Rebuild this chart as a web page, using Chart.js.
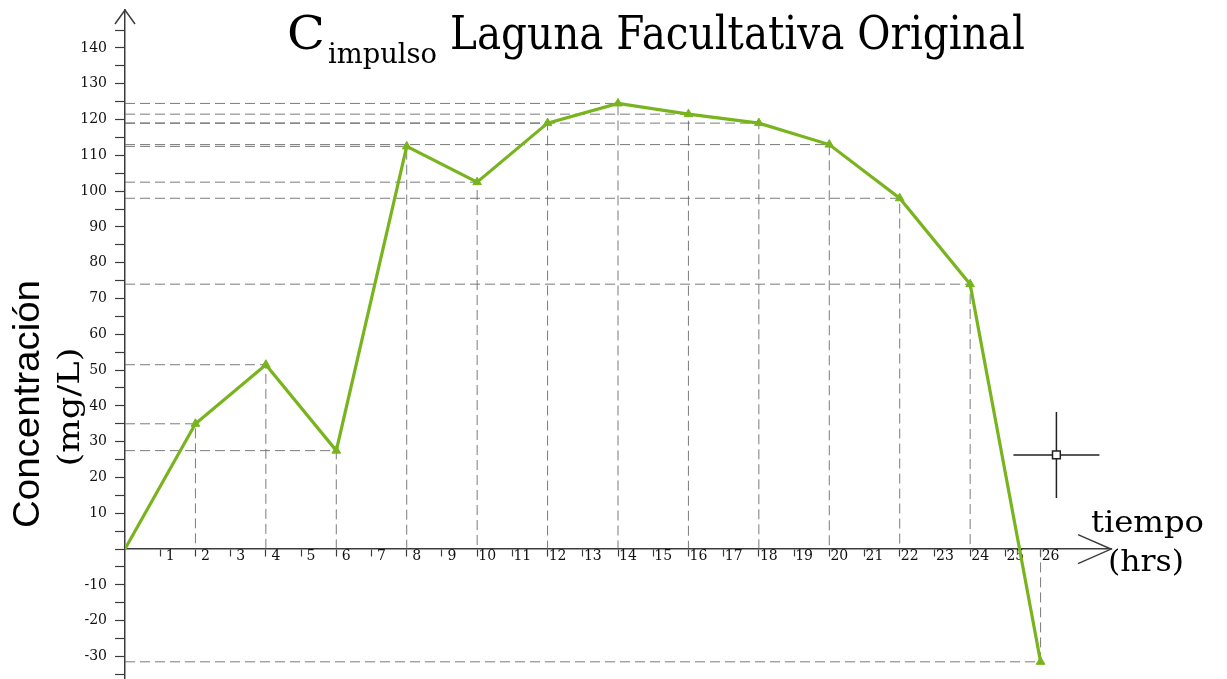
<!DOCTYPE html>
<html>
<head>
<meta charset="utf-8">
<title>Cimpulso Laguna Facultativa Original</title>
<script src="https://cdn.jsdelivr.net/npm/chart.js@4/dist/chart.umd.min.js"></script>
<style>
  html, body { margin: 0; padding: 0; background: #ffffff; }
  #grafica { display: block; }
</style>
</head>
<body>
<canvas id="grafica" width="1227" height="679"></canvas>
<script>
// Concentración del trazador (mg/L) frente al tiempo (hrs)
const horas = [0, 2, 4, 6, 8, 10, 12, 14, 16, 18, 20, 22, 24, 26];
const concentracion = [0, 35, 51.5, 27.5, 112.5, 102.5, 119, 124.5, 121.5, 119, 113, 98, 74, -31.5];

// Marcas de los ejes
const xTicks = [1, 2, 3, 4, 5, 6, 7, 8, 9, 10, 11, 12, 13, 14, 15, 16, 17, 18, 19, 20, 21, 22, 23, 24, 25, 26];
const yTicks = [-35, -30, -25, -20, -15, -10, -5, 0, 5, 10, 15, 20, 25, 30, 35, 40, 45, 50, 55, 60, 65, 70,
                75, 80, 85, 90, 95, 100, 105, 110, 115, 120, 125, 130, 135, 140, 145];

// Puntero del ratón que aparece sobre la gráfica
const puntero = [{ x: 26.45, y: 26.3 }];

const VERDE = '#78b41e';
const EJE = '#3c3c3c';
const GUIA = 'rgba(100,100,100,0.85)';

// Líneas de referencia discontinuas: desde el eje Y hasta el punto y del punto al eje X
const guias = horas
  .map((h, i) => ({ h, c: concentracion[i] }))
  .filter(p => p.h !== 0)
  .map(p => ({
    data: [{ x: 0, y: p.c }, { x: p.h, y: p.c }, { x: p.h, y: 0 }],
    borderColor: GUIA,
    borderWidth: 1,
    borderDash: [10, 5],
    pointRadius: 0,
    fill: false,
    tension: 0
  }));

function textoAjustado(ctx, texto, fuente, x, base, ancho) {
  ctx.save();
  ctx.font = fuente;
  ctx.textAlign = 'left';
  ctx.textBaseline = 'alphabetic';
  const w = ctx.measureText(texto).width;
  ctx.translate(x, base);
  ctx.scale(ancho / w, 1);
  ctx.fillText(texto, 0, 0);
  ctx.restore();
}

function textoVertical(ctx, texto, fuente, xBase, yCentro, largo) {
  ctx.save();
  ctx.font = fuente;
  ctx.textAlign = 'center';
  ctx.textBaseline = 'alphabetic';
  const w = ctx.measureText(texto).width;
  ctx.translate(xBase, yCentro);
  ctx.rotate(-Math.PI / 2);
  ctx.scale(largo / w, 1);
  ctx.fillText(texto, 0, 0);
  ctx.restore();
}

// Flechas de los ejes, título y nombres de los ejes
const rotulos = {
  id: 'rotulos',
  afterDraw(chart) {
    const ctx = chart.ctx;
    const sx = chart.scales.x, sy = chart.scales.y;
    const x0 = sx.getPixelForValue(0);
    const y0 = sy.getPixelForValue(0);
    const xFin = sx.getPixelForValue(sx.max);
    const yFin = sy.getPixelForValue(sy.max);

    ctx.save();
    ctx.strokeStyle = EJE;
    ctx.lineWidth = 1.5;
    ctx.beginPath();
    ctx.moveTo(x0 - 10, yFin + 14);
    ctx.lineTo(x0, yFin);
    ctx.lineTo(x0 + 10, yFin + 14);
    ctx.moveTo(xFin - 33, y0 - 14.5);
    ctx.lineTo(xFin, y0);
    ctx.lineTo(xFin - 33, y0 + 14.5);
    ctx.stroke();
    ctx.restore();

    ctx.save();
    ctx.fillStyle = '#000000';
    textoAjustado(ctx, 'C', '47px "DejaVu Serif"', 287, 49, 38);
    textoAjustado(ctx, 'impulso', '28px "DejaVu Serif"', 328, 63, 109);
    textoAjustado(ctx, 'Laguna Facultativa Original', '47px "DejaVu Serif"', 450, 49, 575);

    textoVertical(ctx, 'Concentración', '36px "Liberation Sans"', 39, 404, 248);
    textoVertical(ctx, '(mg/L)', '30px "DejaVu Serif"', 79, 407, 119);

    textoAjustado(ctx, 'tiempo', '30px "DejaVu Serif"', 1091, 532, 113);
    textoAjustado(ctx, '(hrs)', '30px "DejaVu Serif"', 1108, 571, 76);
    ctx.restore();
  }
};

new Chart(document.getElementById('grafica'), {
  type: 'line',
  data: {
    datasets: [
      {
        data: puntero,
        pointStyle: 'rect',
        pointRadius: 5.5,
        pointBorderWidth: 1.5,
        pointBorderColor: '#222222',
        pointBackgroundColor: '#ffffff',
        showLine: false
      },
      {
        data: puntero,
        pointStyle: 'cross',
        pointRadius: 43,
        pointBorderWidth: 1.5,
        pointBorderColor: '#222222',
        showLine: false
      },
      {
        data: horas.map((h, i) => ({ x: h, y: concentracion[i] })),
        borderColor: VERDE,
        borderWidth: 3.2,
        pointStyle: 'triangle',
        pointRadius: horas.map(h => (h === 0 ? 0 : 5)),
        pointBackgroundColor: VERDE,
        pointBorderColor: VERDE,
        pointBorderWidth: 1,
        tension: 0,
        fill: false
      },
      ...guias
    ]
  },
  options: {
    responsive: false,
    animation: false,
    events: [],
    devicePixelRatio: 1,
    layout: { autoPadding: false, padding: { left: 0, right: 116, top: 10, bottom: 0 } },
    plugins: {
      legend: { display: false },
      tooltip: { enabled: false },
      title: { display: false }
    },
    scales: {
      x: {
        type: 'linear',
        min: 0,
        max: 28,
        position: { y: 0 },
        afterFit: axis => { axis.height = 0; axis.paddingLeft = 0; axis.paddingRight = 0; },
        afterBuildTicks: axis => { axis.ticks = xTicks.map(v => ({ value: v })); },
        grid: {
          drawOnChartArea: false,
          color: EJE,
          tickLength: 7,
          tickWidth: 1.2
        },
        border: { display: true, color: EJE, width: 1.5 },
        ticks: {
          autoSkip: false,
          maxRotation: 0,
          labelOffset: 10,
          padding: -8,
          color: '#111111',
          font: { family: '"DejaVu Serif"', size: 14 }
        }
      },
      y: {
        type: 'linear',
        min: -36.3,
        max: 150.6,
        position: 'left',
        afterFit: axis => { axis.width = 125; axis.paddingTop = 0; axis.paddingBottom = 0; },
        afterBuildTicks: axis => { axis.ticks = yTicks.map(v => ({ value: v })); },
        grid: {
          drawOnChartArea: false,
          color: EJE,
          tickLength: 10,
          tickWidth: 1.2
        },
        border: { display: true, color: EJE, width: 1.5 },
        ticks: {
          autoSkip: false,
          padding: 8,
          color: '#111111',
          font: { family: '"DejaVu Serif"', size: 14 },
          callback: v => (v % 10 === 0 && v !== 0 ? String(v) : '')
        }
      }
    }
  },
  plugins: [rotulos]
});
</script>
</body>
</html>
